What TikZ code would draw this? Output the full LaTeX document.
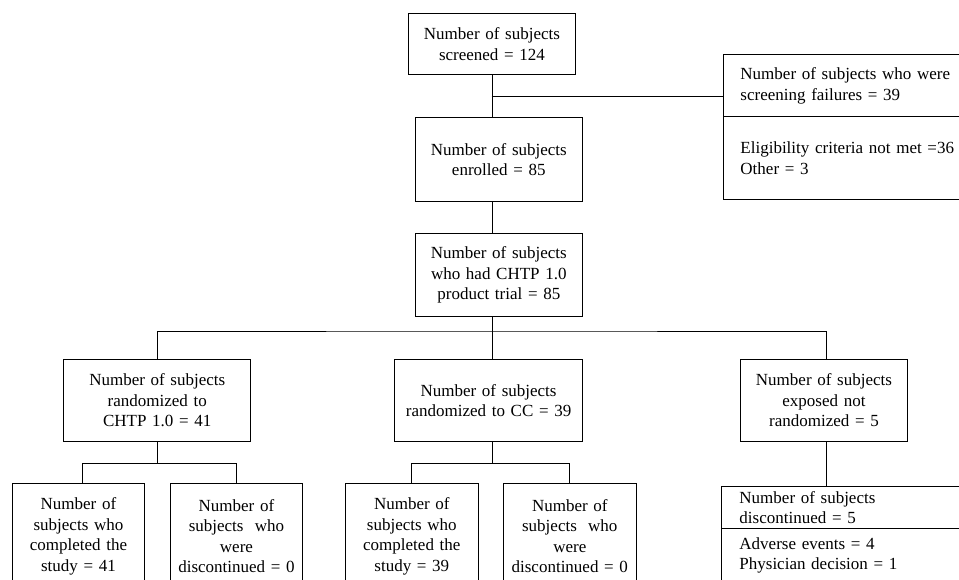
\documentclass[tikz,border=0pt]{standalone}
\usepackage{fontspec}
\setmainfont{Liberation Serif}
\newcommand\tnr{\fontsize{17}{20.5}\selectfont}
\begin{document}
\begin{tikzpicture}[x=1pt,y=-1pt, line width=0.9pt,
  box/.style={draw, inner sep=0pt, align=center, anchor=north west, font=\tnr},
  lbox/.style={draw, inner xsep=17pt, inner ysep=0pt, align=left, anchor=north west, font=\tnr, text width=230pt},
  link/.style={draw, line width=0.9pt}]
\useasboundingbox (0,0) rectangle (959,579);
\clip (0,0) rectangle (959,579);
% top column
\node[box, minimum width=167pt, minimum height=61pt, text width=160pt] (scr) at (408,13) {Number of subjects\\screened = 124};
\node[box, minimum width=166.7pt, minimum height=83.4pt, text width=160pt] (enr) at (415,117.3) {Number of subjects\\enrolled = 85};
\node[box, minimum width=166.7pt, minimum height=82.7pt, text width=160pt] (chtp) at (415,233.3) {Number of subjects\\who had CHTP 1.0\\product trial = 85};
% screening failures
\node[lbox, minimum height=61.7pt] (fa) at (723,54.3) {Number of subjects who were\\screening failures = 39};
\node[lbox, minimum height=83.3pt] (fb) at (723,116) {Eligibility criteria not met =36\\Other = 3};
% second level
\node[box, minimum width=187pt, minimum height=82.6pt, text width=180pt] (r1) at (63.3,358.7) {Number of subjects\\randomized to\\CHTP 1.0 = 41};
\node[box, minimum width=187.7pt, minimum height=82.6pt, text width=180pt] (cc) at (394.3,358.7) {Number of subjects\\randomized to CC = 39};
\node[box, minimum width=166.4pt, minimum height=82.6pt, text width=160pt] (ex) at (740.3,358.7) {Number of subjects\\exposed not\\randomized = 5};
% bottom level
\node[box, minimum width=132.6pt, minimum height=106pt, text width=128pt] (a) at (11.7,482.7) {Number of\\subjects who\\completed the\\study = 41};
\node[box, minimum width=132.6pt, minimum height=106pt, text width=128pt] (b) at (169.7,482.7) {Number of\\subjects~ who\\were\\discontinued = 0};
\node[box, minimum width=132.7pt, minimum height=106pt, text width=128pt] (c) at (345,482.7) {Number of\\subjects who\\completed the\\study = 39};
\node[box, minimum width=133.3pt, minimum height=106pt, text width=128pt] (d) at (502.7,482.7) {Number of\\subjects~ who\\were\\discontinued = 0};
\node[lbox, inner xsep=18pt, minimum height=42.6pt] (da) at (721,485.7) {Number of subjects\\discontinued = 5};
\node[lbox, inner xsep=18pt, minimum height=53pt] (db) at (721,528.3) {Adverse events = 4\\Physician decision = 1};
% connectors
\coordinate (j1) at (491.5,96);
\coordinate (j2) at (491.5,331);
\draw[link] (scr.south) -- (scr.south |- enr.north);
\draw[link] (j1) -- (j1 -| fa.west);
\draw[link] (enr.south -| scr.south) -- (chtp.north -| scr.south);
\draw[link] (chtp.south -| scr.south) -- (cc.north -| scr.south);
\draw[link] (r1.north) |- (j2) -| ([xshift=2.2pt]ex.north);
\draw[link] (r1.south) -- ++(0,21) coordinate (j3);
\draw[link] ([xshift=4.3pt]a.north) |- (j3) -| (b.north);
\draw[link] (cc.south -| scr.south) -- ++(0,21) coordinate (j4);
\draw[link] (c.north) |- (j4) -| (d.north);
\draw[link] ([xshift=2.2pt]ex.south) -- ([xshift=2.2pt]ex.south |- da.north);
\end{tikzpicture}
\end{document}
